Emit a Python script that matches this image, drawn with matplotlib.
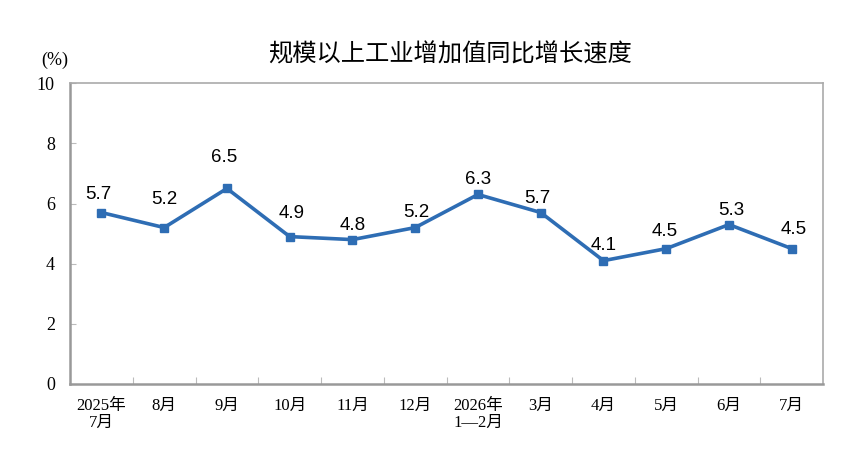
import matplotlib
matplotlib.use("Agg")
import matplotlib.pyplot as plt

categories = ["2025年\n7月", "8月", "9月", "10月", "11月", "12月", "2026年\n1—2月",
              "3月", "4月", "5月", "6月", "7月"]
values = [5.7, 5.2, 6.5, 4.9, 4.8, 5.2, 6.3, 5.7, 4.1, 4.5, 5.3, 4.5]
yticks = [0, 2, 4, 6, 8, 10]
title = "规模以上工业增加值同比增长速度"

# label placement (pixels above / right of each point, as in the reference)
label_dy = [20, 30, 33, 25, 16, 17, 17, 16, 17, 19, 16, 21]
label_dx = [-3, 0, -3, 2, 0, 1, 0, -3, 0, -2, 2, 2]

serif = ["Liberation Serif", "Noto Sans CJK SC"]
sans = ["Noto Sans CJK SC", "DejaVu Sans"]

fig = plt.figure(figsize=(8.5, 4.7), dpi=100)
ax = fig.add_axes([0.0824, 0.183, 0.886, 0.640])

x = list(range(len(values)))
color = "#2E6DB4"
ax.plot(x, values, color=color, lw=2.6, marker="s", markersize=6, zorder=3)
fs = 13.5
half_digit_px = fs * 100 / 72 * 0.716 / 2
for xi, v, dy, dx in zip(x, values, label_dy, label_dx):
    ax.annotate(f"{v:.1f}", (xi, v),
                xytext=(dx * 0.72, (dy - half_digit_px) * 0.72), textcoords="offset points",
                ha="center", va="baseline", fontsize=fs, family="Liberation Sans", color="black")

ax.set_xlim(-0.5, len(values) - 0.5)
ax.set_ylim(0, 10)
ax.set_yticks(yticks)
ax.set_yticklabels([str(t) for t in yticks], family=serif, fontsize=13)
ax.set_xticks(x)
ax.set_xticklabels(categories, family=serif, fontsize=12, linespacing=1.05)
ax.tick_params(axis="x", length=0, pad=10)
ax.set_xticks([i + 0.5 for i in range(len(values) - 1)], minor=True)
ax.tick_params(axis="x", which="minor", direction="in", length=5, color="#bbbbbb", width=0.8)
ax.tick_params(axis="y", direction="in", length=4, color="#bbbbbb", width=0.8, pad=11)

for s in ["left", "bottom"]:
    ax.spines[s].set_color("#999999")
    ax.spines[s].set_linewidth(1.8)
for s in ["top", "right"]:
    ax.spines[s].set_color("#aaaaaa")
    ax.spines[s].set_linewidth(1.2)

fig.text(0.53, 0.883, title, ha="center", va="center", fontsize=17.5, family=sans)
fig.text(0.065, 0.872, "(%)", ha="center", va="center", fontsize=13, family=serif)

fig.savefig("out.png", dpi=100)
